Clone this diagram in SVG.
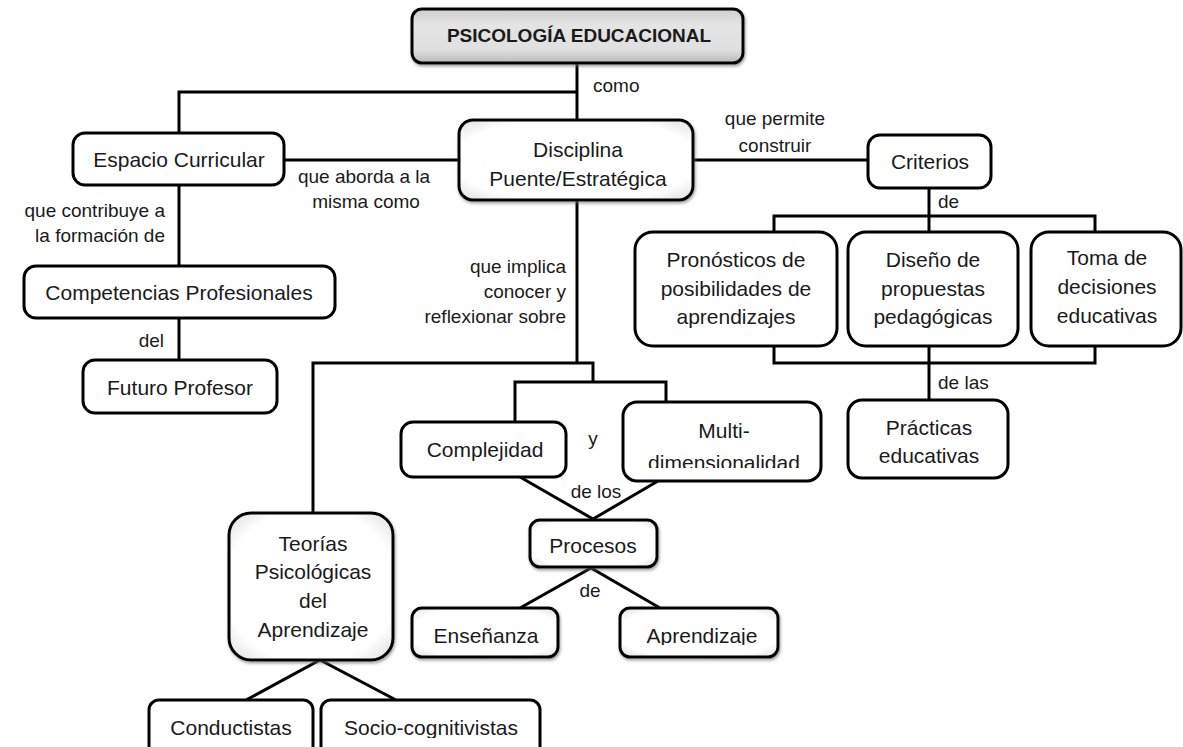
<svg xmlns="http://www.w3.org/2000/svg" width="1183" height="747" viewBox="0 0 1183 747">
<style>
.box{fill:#fff;stroke:#000;stroke-width:3}
.sh{fill:url(#shade);stroke:#000;stroke-width:3;filter:url(#ds)}
.t{font-family:"Liberation Sans",Arial,sans-serif;font-size:21px;fill:#1a1a1a;text-anchor:middle}
.l{font-family:"Liberation Sans",Arial,sans-serif;font-size:19px;fill:#1a1a1a}
.c{fill:none;stroke:#000;stroke-width:3}
</style>
<defs>
<linearGradient id="gray" x1="0" y1="0" x2="0" y2="1">
<stop offset="0" stop-color="#cfcfcf"/>
<stop offset="0.3" stop-color="#e4e4e4"/>
<stop offset="0.75" stop-color="#e0e0e0"/>
<stop offset="1" stop-color="#b8b8b8"/>
</linearGradient>
<radialGradient id="shade" cx="0.5" cy="0.5" r="0.75">
<stop offset="0.7" stop-color="#ffffff"/>
<stop offset="1" stop-color="#d4d4d4"/>
</radialGradient>
<filter id="ds" x="-10%" y="-10%" width="125%" height="130%">
<feDropShadow dx="1" dy="2" stdDeviation="1.5" flood-color="#666" flood-opacity="0.6"/>
</filter>
<clipPath id="clipMulti"><rect x="620" y="400" width="205" height="68"/></clipPath>
<clipPath id="clipEns"><rect x="410" y="606" width="150" height="39"/></clipPath>
<clipPath id="clipApr"><rect x="618" y="606" width="162" height="39"/></clipPath>
<clipPath id="clipSoc"><rect x="318" y="698" width="225" height="40"/></clipPath>
</defs>

<g id="connectors">
<path class="c" d="M577,63 V120"/>
<path class="c" d="M577,92 H179 V133"/>
<path class="c" d="M284,160 H459"/>
<path class="c" d="M179,185 V266"/>
<path class="c" d="M179,318 V360"/>
<path class="c" d="M693,160 H868"/>
<path class="c" d="M929,188 V232"/>
<path class="c" d="M774,232 V216 H1095 V232"/>
<path class="c" d="M774,346 V363 H1095 V346"/>
<path class="c" d="M929,346 V400"/>
<path class="c" d="M577,200 V363"/>
<path class="c" d="M313,513 V363 H593 V382"/>
<path class="c" d="M515,422 V382 H666 V402"/>
<path class="c" d="M520,477 L593,519 L658,481"/>
<path class="c" d="M520,608 L591,568 L660,608"/>
<path class="c" d="M246,700 L320,660 L396,700"/>
</g>

<g id="labels">
<text class="l" x="593" y="92">como</text>
<text class="l" x="364" y="183" text-anchor="middle">que aborda a la</text>
<text class="l" x="366" y="208" text-anchor="middle">misma como</text>
<text class="l" x="775" y="125" text-anchor="middle">que permite</text>
<text class="l" x="775" y="152" text-anchor="middle">construir</text>
<text class="l" x="938" y="208">de</text>
<text class="l" x="165" y="217" text-anchor="end">que contribuye a</text>
<text class="l" x="165" y="242" text-anchor="end">la formación de</text>
<text class="l" x="164" y="347" text-anchor="end">del</text>
<text class="l" x="566" y="273" text-anchor="end">que implica</text>
<text class="l" x="566" y="298" text-anchor="end">conocer y</text>
<text class="l" x="566" y="323" text-anchor="end">reflexionar sobre</text>
<text class="l" x="593" y="445" text-anchor="middle">y</text>
<text class="l" x="596" y="498" text-anchor="middle">de los</text>
<text class="l" x="590" y="597" text-anchor="middle">de</text>
<text class="l" x="938" y="389">de las</text>
</g>

<g id="title">
<rect x="412" y="9" width="331" height="54" rx="10" fill="url(#gray)" stroke="#000" stroke-width="3" filter="url(#ds)"/>
<text class="t" x="579" y="42" style="font-weight:bold;font-size:19px">PSICOLOGÍA EDUCACIONAL</text>
</g>
<g id="espacio">
<rect class="box" x="73" y="133" width="211" height="52" rx="12"/>
<text class="t" x="179" y="167">Espacio Curricular</text>
</g>
<g id="disciplina">
<rect class="sh" x="459" y="120" width="234" height="80" rx="14"/>
<text class="t" x="578" y="157">Disciplina</text>
<text class="t" x="578" y="186">Puente/Estratégica</text>
</g>
<g id="criterios">
<rect class="box" x="868" y="135" width="123" height="53" rx="12"/>
<text class="t" x="930" y="169">Criterios</text>
</g>
<g id="pronosticos">
<rect class="box" x="635" y="232" width="202" height="114" rx="18"/>
<text class="t" x="736" y="267">Pronósticos de</text>
<text class="t" x="736" y="296">posibilidades de</text>
<text class="t" x="736" y="324">aprendizajes</text>
</g>
<g id="diseno">
<rect class="box" x="848" y="232" width="170" height="114" rx="18"/>
<text class="t" x="933" y="267">Diseño de</text>
<text class="t" x="933" y="296">propuestas</text>
<text class="t" x="933" y="324">pedagógicas</text>
</g>
<g id="toma">
<rect class="box" x="1031" y="232" width="150" height="114" rx="18"/>
<text class="t" x="1107" y="265">Toma de</text>
<text class="t" x="1107" y="294">decisiones</text>
<text class="t" x="1107" y="323">educativas</text>
</g>
<g id="practicas">
<rect class="box" x="848" y="400" width="160" height="78" rx="14"/>
<text class="t" x="929" y="435">Prácticas</text>
<text class="t" x="929" y="463">educativas</text>
</g>
<g id="competencias">
<rect class="box" x="24" y="266" width="311" height="52" rx="12"/>
<text class="t" x="179" y="300">Competencias Profesionales</text>
</g>
<g id="futuro">
<rect class="box" x="83" y="360" width="194" height="53" rx="12"/>
<text class="t" x="180" y="395">Futuro Profesor</text>
</g>
<g id="complejidad">
<rect class="box" x="401" y="422" width="165" height="55" rx="12"/>
<text class="t" x="485" y="457">Complejidad</text>
</g>
<g id="multi">
<rect class="box" x="623" y="402" width="198" height="79" rx="14"/>
<text class="t" x="724" y="438">Multi-</text>
<text class="t" x="724" y="470" clip-path="url(#clipMulti)">dimensionalidad</text>
</g>
<g id="procesos">
<rect class="sh" x="530" y="520" width="127" height="47" rx="10"/>
<text class="t" x="593" y="553">Procesos</text>
</g>
<g id="ensenanza">
<rect class="sh" x="412" y="608" width="146" height="49" rx="10"/>
<text class="t" x="486" y="643" clip-path="url(#clipEns)">Enseñanza</text>
</g>
<g id="aprendizaje">
<rect class="sh" x="620" y="608" width="158" height="49" rx="10"/>
<text class="t" x="702" y="643" clip-path="url(#clipApr)">Aprendizaje</text>
</g>
<g id="teorias">
<rect class="sh" x="229" y="513" width="164" height="147" rx="22"/>
<text class="t" x="313" y="551">Teorías</text>
<text class="t" x="313" y="579">Psicológicas</text>
<text class="t" x="313" y="608">del</text>
<text class="t" x="313" y="637">Aprendizaje</text>
</g>
<g id="conductistas">
<rect class="box" x="149" y="700" width="164" height="60" rx="10"/>
<text class="t" x="231" y="735">Conductistas</text>
</g>
<g id="socio">
<rect class="box" x="321" y="700" width="219" height="60" rx="10"/>
<text class="t" x="431" y="735" clip-path="url(#clipSoc)">Socio-cognitivistas</text>
</g>
</svg>
